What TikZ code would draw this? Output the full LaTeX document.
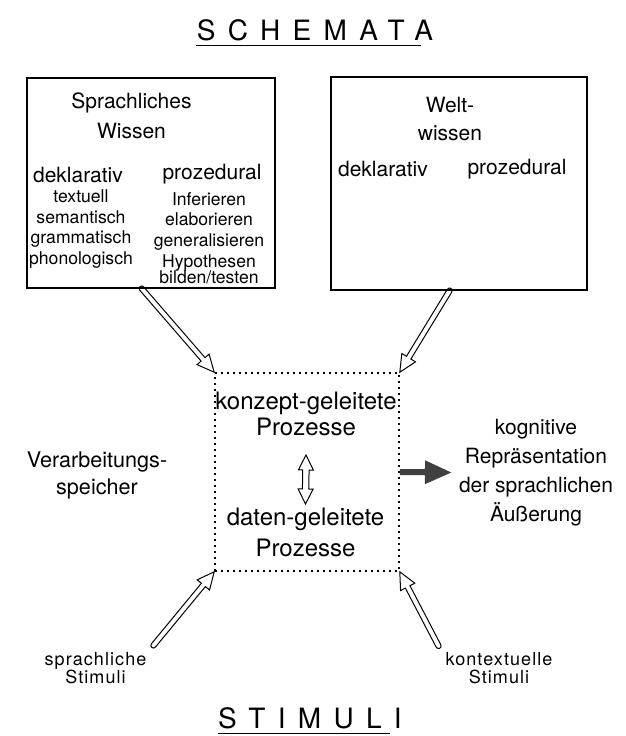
\documentclass[tikz,border=0pt]{standalone}
\usepackage{fontspec}
\setmainfont{TeX Gyre Heros}
\newfontfamily\titlefont[LetterSpace=44]{TeX Gyre Heros}
\newfontfamily\stimfont[LetterSpace=6]{TeX Gyre Heros}
\usetikzlibrary{arrows.meta,calc}

\tikzset{
  wbox/.style={draw, line width=0.6pt},
  procbox/.style={draw, line width=0.8pt, dash pattern=on 0.8pt off 2.2pt,
    minimum width=92pt, minimum height=99pt},
  titletext/.style={font=\titlefont\fontsize{14}{16}\selectfont, inner sep=0pt},
  headtext/.style={font=\fontsize{10.5}{15}\selectfont, align=center},
  itemtext/.style={font=\fontsize{8.8}{10.3}\selectfont, align=center},
  proctext/.style={font=\fontsize{12}{13}\selectfont, align=center},
  labeltext/.style={font=\fontsize{10.5}{14.5}\selectfont, align=center},
  stimtext/.style={font=\stimfont\fontsize{9}{8.8}\selectfont, align=center},
  % outlined arrow, from \tikztostart to \tikztotarget
  hollow/.style={line width=0.5pt, to path={
    ($(\tikztostart)!1.3pt!90:(\tikztotarget)$)
    -- ($(\tikztotarget)!8.6pt!-8.7:(\tikztostart)$)
    -- ($(\tikztotarget)!9.39pt!-25.2:(\tikztostart)$)
    -- (\tikztotarget)
    -- ($(\tikztotarget)!9.39pt!25.2:(\tikztostart)$)
    -- ($(\tikztotarget)!8.6pt!8.7:(\tikztostart)$)
    -- ($(\tikztostart)!1.3pt!-90:(\tikztotarget)$)
    .. controls ($(\tikztostart)!2.16pt!-143.1:(\tikztotarget)$)
    and ($(\tikztostart)!2.16pt!143.1:(\tikztotarget)$)
    .. ($(\tikztostart)!1.3pt!90:(\tikztotarget)$) -- cycle}},
  % outlined arrow with two heads
  hollow both/.style={line width=0.5pt, to path={
    (\tikztostart)
    -- ($(\tikztostart)!8.39pt!26.57:(\tikztotarget)$)
    -- ($(\tikztostart)!7.67pt!12.04:(\tikztotarget)$)
    -- ($(\tikztotarget)!7.67pt!-12.04:(\tikztostart)$)
    -- ($(\tikztotarget)!8.39pt!-26.57:(\tikztostart)$)
    -- (\tikztotarget)
    -- ($(\tikztotarget)!8.39pt!26.57:(\tikztostart)$)
    -- ($(\tikztotarget)!7.67pt!12.04:(\tikztostart)$)
    -- ($(\tikztostart)!7.67pt!-12.04:(\tikztotarget)$)
    -- ($(\tikztostart)!8.39pt!-26.57:(\tikztotarget)$)
    -- cycle}},
  solid arrow/.style={line width=3pt, black!75,
    -{Triangle[length=13.5pt, width=11pt]}}
}

\begin{document}
\begin{tikzpicture}[x=0.5pt, y=-0.5pt]
    \useasboundingbox (0,0) rectangle (626,736);

    % Headings (letter spacing leaves 6.2pt after the last letter)
    \node[titletext] (schemata) at (315,30) {SCHEMATA};
    \draw[line width=0.6pt] ([yshift=-2pt]schemata.south west) -- ([xshift=-6.2pt, yshift=-2pt]schemata.south east);
    \node[titletext] (stimuli) at (310,718) {STIMULI};
    \draw[line width=0.6pt] ([yshift=-2pt]stimuli.south west) -- ([xshift=-6.2pt, yshift=-2pt]stimuli.south east);

    % Sprachliches Wissen
    \node[wbox, minimum width=124pt, minimum height=105pt] (sprach) at (151,183) {};
    \node[headtext] (sprachw) at (131.5,116) {Sprachliches\\Wissen};
    \node[headtext] (dekl1) at (78,175) {deklarativ};
    \node[headtext] (prozd1) at (212,174) {prozedural};
    \node[itemtext] (dekitems) at (81,229) {textuell\\semantisch\\grammatisch\\phonologisch};
    \node[itemtext] (prozitems) at (209,238) {Inferieren\\elaborieren\\generalisieren\\Hypothesen\\[-2.2pt]bilden/testen};

    % Weltwissen
    \node[wbox, minimum width=128pt, minimum height=106.5pt] (welt) at (459,183.5) {};
    \node[headtext, font=\fontsize{10.5}{14}\selectfont] (weltw) at (450,118.5) {Welt-\\wissen};
    \node[headtext] (dekl2) at (383,169) {deklarativ};
    \node[headtext] (prozd2) at (517,169) {prozedural};

    % Verarbeitungsspeicher
    \node[procbox] (proz) at (307,472) {};
    \node[proctext] (konz) at (306,414) {konzept-geleitete\\Prozesse};
    \node[proctext] (daten) at (305.5,532.5) {daten-geleitete\\[2.5pt]Prozesse};
    \node[labeltext, font=\fontsize{10.8}{13.5}\selectfont] (verarb) at (97,475.5) {Verarbeitungs-\\speicher};
    \node[labeltext] (kogn) at (536,472.5) {kognitive\\Repräsentation\\der sprachlichen\\Äußerung};

    % Stimuli
    \node[stimtext] (sprstim) at (95.5,668) {sprachliche\\Stimuli};
    \node[stimtext] (kontstim) at (499,668) {kontextuelle\\Stimuli};

    % Arrows
    \draw[hollow] (sprach.-95) to (proz.north west);
    \draw[hollow] (welt.-95) to (proz.north east);
    \draw[hollow] (sprstim.north east) to (proz.south west);
    \draw[hollow] (kontstim.160) to (proz.south east);
    \draw[hollow both] ([yshift=-6pt]konz.south) to ([yshift=-1.5pt]daten.north);
    \draw[solid arrow] (proz.east) -- (kogn.west);
\end{tikzpicture}
\end{document}
